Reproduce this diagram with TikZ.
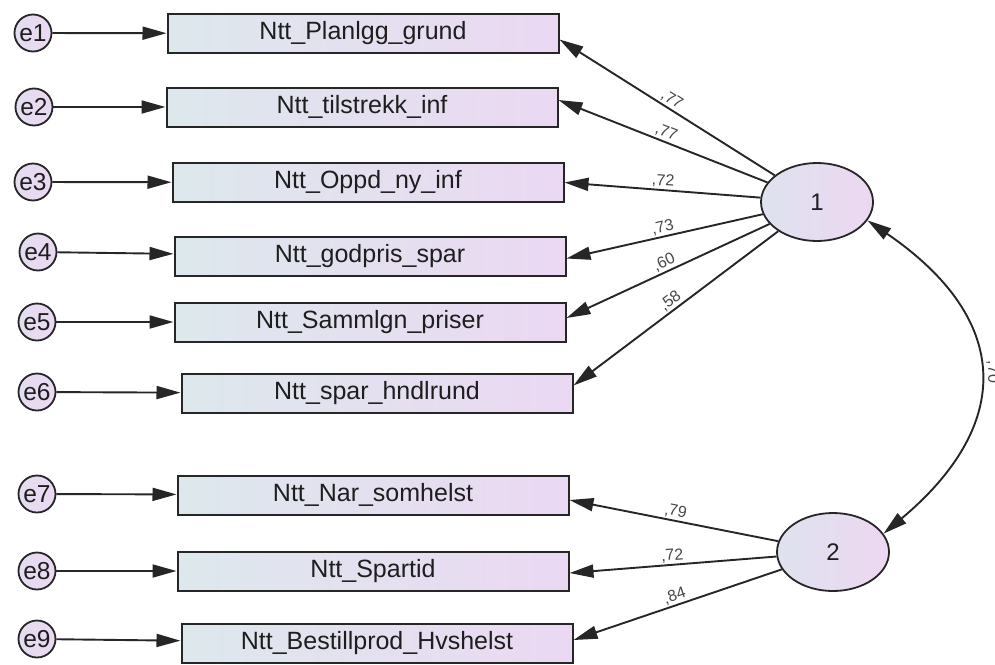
\documentclass[tikz,border=0pt]{standalone}
\usepackage{fontspec}
\setmainfont{Liberation Sans}
\usetikzlibrary{arrows.meta,calc,shapes.geometric}
\definecolor{boxL}{HTML}{DDE8EC}
\definecolor{boxR}{HTML}{EBD8F3}
\definecolor{latL}{HTML}{DEE2EF}
\definecolor{latR}{HTML}{EDD7F1}
\definecolor{errL}{HTML}{E4DDF0}
\definecolor{errR}{HTML}{EBD8F2}
\definecolor{edge}{HTML}{262626}
\definecolor{ink}{HTML}{1E1E1E}
\begin{document}
\begin{tikzpicture}[x=1pt,y=-1pt,
  obs/.style={draw=edge, line width=2pt, left color=boxL, right color=boxR,
    minimum width=391pt, minimum height=39pt, inner sep=0pt, text=ink,
    font=\fontsize{25}{27}\selectfont},
  err/.style={circle, draw=edge, line width=1.8pt, left color=errL, right color=errR,
    minimum size=37pt, inner sep=0pt, text=ink, font=\fontsize{24.5}{26}\selectfont},
  lat/.style={ellipse, draw=edge, line width=1.8pt, left color=latL, right color=latR,
    minimum width=112pt, minimum height=78pt, inner sep=0pt, text=ink,
    font=\fontsize{24}{26}\selectfont},
  load/.style={draw=edge, line width=1.9pt, -{Triangle[length=24pt,width=13pt]}},
  lbl/.style={font=\fontsize{16}{17}\selectfont, text=black!72, inner sep=1.5pt}
]
\useasboundingbox (0,0) rectangle (995,664);

% observed indicators
\node[obs] (B1) at (363,33.5) {Ntt\_Planlgg\_grund};
\node[obs] (B2) at (362,107) {Ntt\_tilstrekk\_inf};
\node[obs] (B3) at (368,182.5) {Ntt\_Oppd\_ny\_inf};
\node[obs] (B4) at (370,256.5) {Ntt\_godpris\_spar};
\node[obs] (B5) at (370,322) {Ntt\_Sammlgn\_priser};
\node[obs] (B6) at (377,393.5) {Ntt\_spar\_hndlrund};
\node[obs] (B7) at (373,495) {Ntt\_Nar\_somhelst};
\node[obs] (B8) at (373,571) {Ntt\_Spartid};
\node[obs] (B9) at (377,643) {Ntt\_Bestillprod\_Hvshelst};

% error terms
\node[err] (e1) at (33,33) {e1};
\node[err] (e2) at (34,107) {e2};
\node[err] (e3) at (33,182) {e3};
\node[err] (e4) at (38,252) {e4};
\node[err] (e5) at (37,322) {e5};
\node[err] (e6) at (37,392) {e6};
\node[err] (e7) at (37,494) {e7};
\node[err] (e8) at (37,571) {e8};
\node[err] (e9) at (37,639) {e9};

% latent factors
\node[lat] (L1) at (817,202) {1};
\node[lat] (L2) at (833,552) {2};

% error paths
\foreach \i in {1,...,9} \draw[load] (e\i) -- (B\i);

% factor loadings
\draw[load] (L1) -- ($(B1.east)+(0,6)$) node[lbl,pos=0.5,sloped,above] {,77};
\draw[load] (L1) -- ($(B2.east)+(0,-7)$) node[lbl,pos=0.5,sloped,above] {,77};
\draw[load] (L1) -- ($(B3.east)+(0,0)$) node[lbl,pos=0.5,sloped,above] {,72};
\draw[load] (L1) -- ($(B4.east)+(0,2)$) node[lbl,pos=0.5,sloped,above] {,73};
\draw[load] (L1) -- ($(B5.east)+(0,-4)$) node[lbl,pos=0.5,sloped,above] {,60};
\draw[load] (L1) -- ($(B6.east)+(0,-8)$) node[lbl,pos=0.5,sloped,above] {,58};
\draw[load] (L2) -- ($(B7.east)+(0,5)$) node[lbl,pos=0.5,sloped,above] {,79};
\draw[load] (L2) -- ($(B8.east)+(0,2)$) node[lbl,pos=0.5,sloped,above] {,72};
\draw[load] (L2) -- ($(B9.east)+(0,-3)$) node[lbl,pos=0.5,sloped,above] {,84};

% factor covariance
\draw[draw=edge, line width=1.9pt, {Triangle[length=24pt,width=13pt]}-{Triangle[length=24pt,width=13pt]}]
  (L1.-20) .. controls (1013,320) and (1013,425) .. (L2.20);
\node[lbl, rotate=-90] (r12) at (993,372) {,70};
\end{tikzpicture}
\end{document}
